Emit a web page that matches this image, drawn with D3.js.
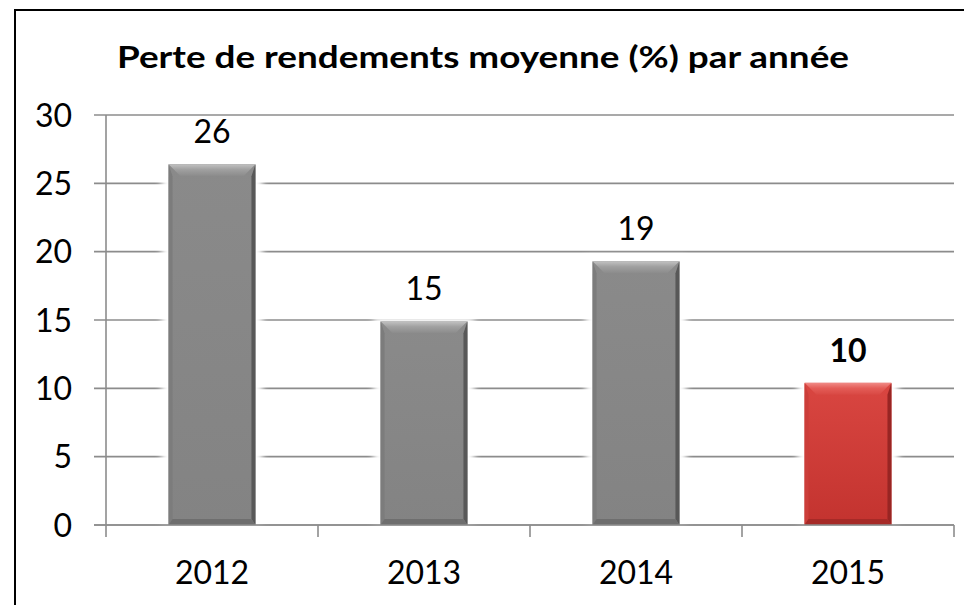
<!DOCTYPE html>
<html>
<head>
<meta charset="utf-8">
<script src="https://cdn.jsdelivr.net/npm/d3@7"></script>
<style>
  html, body { margin: 0; padding: 0; background: #fff; }
  svg { display: block; font-family: Lato, "Open Sans", sans-serif; }
</style>
</head>
<body>
<svg id="chart" width="964" height="605"></svg>
<script>
// chart data
const years = ['2012', '2013', '2014', '2015'];
const losses = [26.4, 14.9, 19.3, 10.4];
const highlight = [false, false, false, true];
const yTicks = [0, 5, 10, 15, 20, 25, 30];
const title = 'Perte de rendements moyenne (%) par année';

const svg = d3.select('#chart');
const margin = { top: 115, right: 10, bottom: 80, left: 106 };
const width = 964, height = 605;

const xScale = d3.scaleBand()
    .domain(years)
    .range([margin.left, width - margin.right])
    .paddingInner(0.59)
    .paddingOuter(0.295);

const yScale = d3.scaleLinear()
    .domain([0, 30])
    .range([height - margin.bottom, margin.top]);

// outer frame
svg.append('rect')
    .attr('x', 15).attr('y', 10)
    .attr('width', 980).attr('height', 620)
    .attr('fill', 'none')
    .attr('stroke', '#000')
    .attr('stroke-width', 2);

// title
svg.append('text')
    .attr('x', 483)
    .attr('y', 68)
    .attr('text-anchor', 'middle')
    .style('font-size', '30px')
    .style('font-weight', 'bold')
    .attr('fill', '#000')
    .attr('textLength', 732)
    .attr('lengthAdjust', 'spacingAndGlyphs')
    .text(title);

const defs = svg.append('defs');
defs.append('filter').attr('id', 'halo')
    .attr('x', '-30%').attr('y', '-30%').attr('width', '160%').attr('height', '160%')
    .append('feGaussianBlur').attr('stdDeviation', 3);

function grad(id, stops) {
    const g = defs.append('linearGradient').attr('id', id)
        .attr('x1', 0).attr('y1', 0).attr('x2', 0).attr('y2', 1);
    stops.forEach(s => g.append('stop').attr('offset', s[0]).attr('stop-color', s[1]));
}
const palette = {
    grey: { body: ['#8a8a8a', '#838383'], top: ['#c2c2c2', '#a0a0a0', '#8b8b8b'], left: '#7c7c7c', right: '#585858', bottom: '#6e6e6e' },
    red:  { body: ['#d94641', '#c3332f'], top: ['#f08a86', '#e45c57', '#d84843'], left: '#cc3e3a', right: '#982523', bottom: '#a62a27' }
};
Object.entries(palette).forEach(([k, p]) => {
    grad(`body-${k}`, [[0, p.body[0]], [1, p.body[1]]]);
    grad(`top-${k}`, [[0, p.top[0]], [0.45, p.top[1]], [1, p.top[2]]]);
});

// gridlines
svg.append('g').attr('class', 'grid')
    .selectAll('line')
    .data(yTicks)
    .join('line')
    .attr('x1', margin.left - 12)
    .attr('x2', width - margin.right)
    .attr('y1', d => yScale(d))
    .attr('y2', d => yScale(d))
    .attr('stroke', '#8c8c8c')
    .attr('stroke-width', 1.6);

// y axis line
svg.append('line')
    .attr('x1', margin.left).attr('x2', margin.left)
    .attr('y1', yScale(30)).attr('y2', yScale(0) + 12)
    .attr('stroke', '#8c8c8c').attr('stroke-width', 1.6);

// x category ticks
const bounds = years.map(y => xScale(y) - xScale.step() * xScale.paddingOuter())
    .concat([width - margin.right]);
svg.append('g').selectAll('line')
    .data(bounds.slice(1))
    .join('line')
    .attr('x1', d => d).attr('x2', d => d)
    .attr('y1', yScale(0)).attr('y2', yScale(0) + 12)
    .attr('stroke', '#8c8c8c').attr('stroke-width', 1.6);

// y tick labels
svg.append('g').selectAll('text')
    .data(yTicks)
    .join('text')
    .attr('x', 72)
    .attr('y', d => yScale(d))
    .attr('dy', '0.36em')
    .attr('text-anchor', 'end')
    .style('font-size', '32px')
    .attr('fill', '#000')
    .text(d => d);

// x labels
svg.append('g').selectAll('text')
    .data(years)
    .join('text')
    .attr('x', d => xScale(d) + xScale.bandwidth() / 2)
    .attr('y', 584)
    .attr('text-anchor', 'middle')
    .style('font-size', '32px')
    .attr('fill', '#000')
    .text(d => d);

// bars
const bw = xScale.bandwidth();
years.forEach((yr, i) => {
    const k = highlight[i] ? 'red' : 'grey';
    const p = palette[k];
    const x0 = xScale(yr), x1 = x0 + bw;
    const y0 = yScale(losses[i]), y1 = yScale(0);
    const g = svg.append('g').attr('class', 'bar');

    g.append('rect')
        .attr('x', x0 - 7).attr('y', y0 - 4)
        .attr('width', bw + 14).attr('height', y1 - y0 + 4)
        .attr('fill', '#fff')
        .attr('filter', 'url(#halo)');

    g.append('rect')
        .attr('x', x0).attr('y', y0)
        .attr('width', bw).attr('height', y1 - y0)
        .attr('fill', `url(#body-${k})`);

    const t = 12, s = 4, b = 6;
    g.append('polygon')
        .attr('points', [[x0, y0], [x1, y0], [x1 - t, y0 + t], [x0 + t, y0 + t]].join(' '))
        .attr('fill', `url(#top-${k})`);
    g.append('polygon')
        .attr('points', [[x0, y0], [x0 + s, y0 + t], [x0 + s, y1 - b], [x0, y1]].join(' '))
        .attr('fill', p.left);
    g.append('polygon')
        .attr('points', [[x1, y0], [x1 - s, y0 + t], [x1 - s, y1 - b], [x1, y1]].join(' '))
        .attr('fill', p.right);
    g.append('polygon')
        .attr('points', [[x0, y1], [x0 + s, y1 - b], [x1 - s, y1 - b], [x1, y1]].join(' '))
        .attr('fill', p.bottom);

    g.append('text')
        .attr('x', x0 + bw / 2)
        .attr('y', y0 - 21)
        .attr('text-anchor', 'middle')
        .style('font-size', '32px')
        .style('font-weight', highlight[i] ? 'bold' : 'normal')
        .attr('fill', '#000')
        .text(d3.format('.0f')(losses[i]));
});

// redraw axis baseline on top of bars
svg.append('line')
    .attr('x1', margin.left - 12).attr('x2', width - margin.right)
    .attr('y1', yScale(0)).attr('y2', yScale(0))
    .attr('stroke', '#8c8c8c').attr('stroke-width', 1.6);
</script>
</body>
</html>
